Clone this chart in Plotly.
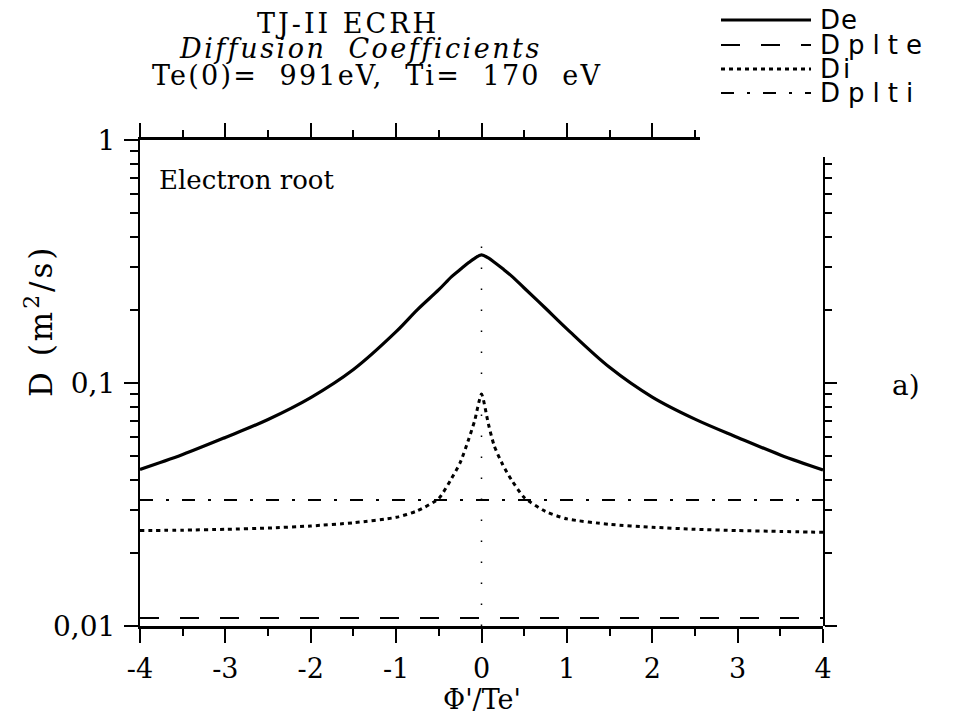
import plotly.graph_objects as go

# ---------------- data ----------------
x_vals = [-4, -3.5, -3, -2.5, -2, -1.5, -1, -0.75, -0.5, -0.35, -0.25, -0.15, -0.08, 0,
          0.08, 0.15, 0.25, 0.35, 0.5, 0.75, 1, 1.5, 2, 2.5, 3, 3.5, 4]
de_vals = [0.0441, 0.0508, 0.0597, 0.0708, 0.0871, 0.1136, 0.1626, 0.2004, 0.2421, 0.274, 0.293, 0.313, 0.326, 0.337,
           0.327, 0.314, 0.295, 0.276, 0.246, 0.203, 0.167, 0.116, 0.0875, 0.0710, 0.0597, 0.0506, 0.0439]
di_vals = [0.0247, 0.0248, 0.0250, 0.0253, 0.0258, 0.0266, 0.0280, 0.0298, 0.0335, 0.0405, 0.047, 0.0587, 0.070, 0.090,
           0.068, 0.055, 0.046, 0.0400, 0.0338, 0.0296, 0.0276, 0.0262, 0.0255, 0.0250, 0.0247, 0.0245, 0.0243]
dplte_x = [-4, 4]
dplte_vals = [0.0108, 0.0108]
dplti_x = [-4, 4]
dplti_vals = [0.0330, 0.0330]
guide_x = [0, 0]
guide_y = [0.01, 0.38]

x_tickvals = [-4, -3, -2, -1, 0, 1, 2, 3, 4]
x_ticktext = ["-4", "-3", "-2", "-1", "0", "1", "2", "3", "4"]
x_minor = [-3.5, -2.5, -1.5, -0.5, 0.5, 1.5, 2.5, 3.5]
top_tickvals = [-4, -3, -2, -1, 0, 1, 2]
top_minor = [-3.5, -2.5, -1.5, -0.5, 0.5, 1.5, 2.5]
y_tickvals = [0.01, 0.1, 1]
y_ticktext = ["0,01", "0,1", "1"]
y_minor = [0.02, 0.03, 0.04, 0.05, 0.06, 0.07, 0.08, 0.09,
           0.2, 0.3, 0.4, 0.5, 0.6, 0.7, 0.8, 0.9]
y_minor_right = [0.02, 0.03, 0.04, 0.05, 0.06, 0.07, 0.08, 0.09,
                 0.2, 0.3, 0.4, 0.5, 0.6, 0.7, 0.8]

legend_names = ["De", "Dplte", "Di", "Dplti"]
legend_dash = ["solid", "19px,21px", "4px,4px", "13px,13px,3px,13px"]
legend_width = [3, 2, 3, 2]
legend_spacing = [1, 8, 3, 8]

SERIF = "DejaVu Serif"
SANS = "DejaVu Sans"


def spaced(text, px):
    return '<span style="letter-spacing:%spx">%s</span>' % (px, text)


fig = go.Figure()

fig.add_trace(go.Scatter(x=guide_x, y=guide_y, mode="lines",
                         line=dict(color="black", width=1.5, dash="1.5px,19.5px"),
                         hoverinfo="skip", showlegend=False))
fig.add_trace(go.Scatter(x=dplte_x, y=dplte_vals, mode="lines", name="Dplte",
                         line=dict(color="black", width=2, dash=legend_dash[1])))
fig.add_trace(go.Scatter(x=dplti_x, y=dplti_vals, mode="lines", name="Dplti",
                         line=dict(color="black", width=2, dash=legend_dash[3])))
fig.add_trace(go.Scatter(x=x_vals, y=di_vals, mode="lines", name="Di",
                         line=dict(color="black", width=3, dash=legend_dash[2], shape="spline", smoothing=0.6)))
fig.add_trace(go.Scatter(x=x_vals, y=de_vals, mode="lines", name="De",
                         line=dict(color="black", width=3.2, shape="spline", smoothing=1.0)))
# empty traces so the partial top and right frame axes get drawn
fig.add_trace(go.Scatter(x=[None], y=[None], xaxis="x2", yaxis="y", mode="lines",
                         hoverinfo="skip", showlegend=False))
fig.add_trace(go.Scatter(x=[None], y=[None], xaxis="x", yaxis="y2", mode="lines",
                         hoverinfo="skip", showlegend=False))

L, R, T, B = 132, 140, 132, 97
W, H = 955, 715
pw, ph = W - L - R, H - T - B


def px2x(px):
    return (px - L) / pw


def px2y(py):
    return (H - B - py) / ph


top_end = 692
top_dom = px2x(top_end)
right_top = -0.07  # log10 of the value where the right frame line starts

fig.update_layout(
    width=W, height=H,
    margin=dict(l=L, r=R, t=T, b=B),
    paper_bgcolor="white", plot_bgcolor="rgba(0,0,0,0)",
    showlegend=False,
    font=dict(family=SERIF, color="black"),
    title=dict(text=spaced("TJ-II\u00a0ECRH", 3), x=340 / W, xanchor="center", y=1 - 16 / H, yanchor="middle",
               font=dict(family=SERIF, size=27, color="black")),
    xaxis=dict(range=[-4, 4], showline=True, linecolor="black", linewidth=3,
               ticks="outside", ticklen=14, tickwidth=2, tickcolor="black",
               tickmode="array", tickvals=x_tickvals, ticktext=x_ticktext, ticklabelstandoff=3,
               minor=dict(tickmode="array", tickvals=x_minor, ticks="outside", ticklen=7, tickwidth=1.5,
                          tickcolor="black"),
               showgrid=False, zeroline=False, tickfont=dict(family=SERIF, size=27, color="black")),
    yaxis=dict(type="log", range=[-2, 0], showline=True, linecolor="black", linewidth=2.2,
               ticks="outside", ticklen=14, tickwidth=2, tickcolor="black",
               tickmode="array", tickvals=y_tickvals, ticktext=y_ticktext, ticklabelstandoff=3,
               minor=dict(tickmode="array", tickvals=y_minor, ticks="outside", ticklen=8, tickwidth=1.5,
                          tickcolor="black"),
               showgrid=False, zeroline=False, tickfont=dict(family=SERIF, size=28, color="black")),
    xaxis2=dict(domain=[0, top_dom], range=[-4, -4 + 8 * top_dom], anchor="y", side="top",
                showline=True, linecolor="black", linewidth=2.5,
                ticks="outside", ticklen=14, tickwidth=2, tickcolor="black",
                tickmode="array", tickvals=top_tickvals,
                minor=dict(tickmode="array", tickvals=top_minor, ticks="outside", ticklen=7, tickwidth=1.5,
                           tickcolor="black"),
                showticklabels=False, showgrid=False, zeroline=False),
    yaxis2=dict(type="log", domain=[0, (2 + right_top) / 2], range=[-2, right_top], anchor="x", side="right",
                showline=True, linecolor="black", linewidth=1.5,
                ticks="outside", ticklen=12, tickwidth=2, tickcolor="black",
                tickmode="array", tickvals=[0.01, 0.1],
                minor=dict(tickmode="array", tickvals=y_minor_right, ticks="outside", ticklen=7, tickwidth=1.5,
                           tickcolor="black"),
                showticklabels=False, showgrid=False, zeroline=False),
)

ann = [
    dict(text=spaced("<i>Diffusion\u00a0\u00a0Coefficients</i>", 2.5), x=px2x(352), y=px2y(41),
         font=dict(family=SERIF, size=27)),
    dict(text=spaced("Te(0)=\u00a0\u00a0991eV,\u00a0\u00a0Ti=\u00a0\u00a0170\u00a0\u00a0eV", 2.2),
         x=px2x(369), y=px2y(67), font=dict(family=SERIF, size=27)),
    dict(text="Electron root", x=px2x(150), y=px2y(172), xanchor="left",
         font=dict(family=SERIF, size=26)),
    dict(text="a)", x=px2x(898), y=px2y(377), font=dict(family=SERIF, size=28)),
    dict(text=spaced("D (m<sup>2</sup>/s)", 3), x=px2x(31), y=px2y(313), textangle=-90,
         font=dict(family=SERIF, size=31)),
    dict(text="\u03a6'/Te'", x=0.5, y=px2y(691), font=dict(family=SERIF, size=27)),
]
for a in ann:
    a.setdefault("xanchor", "center")
    fig.add_annotation(xref="paper", yref="paper", yanchor="middle", showarrow=False, borderpad=0, **a)

# manual legend (long line samples as in the reference)
rows_py = [12, 37, 61, 85]
for name, dash, lw, sp, py in zip(legend_names, legend_dash, legend_width, legend_spacing, rows_py):
    fig.add_shape(type="line", xref="paper", yref="paper",
                  x0=px2x(713), x1=px2x(803), y0=px2y(py), y1=px2y(py),
                  line=dict(color="black", width=lw, dash=dash))
    fig.add_annotation(xref="paper", yref="paper", x=px2x(811), y=px2y(py), xanchor="left", yanchor="middle",
                       text=spaced(name, sp), showarrow=False, borderpad=0,
                       font=dict(family=SANS, size=26, color="black"))

fig.write_html("out.html")
